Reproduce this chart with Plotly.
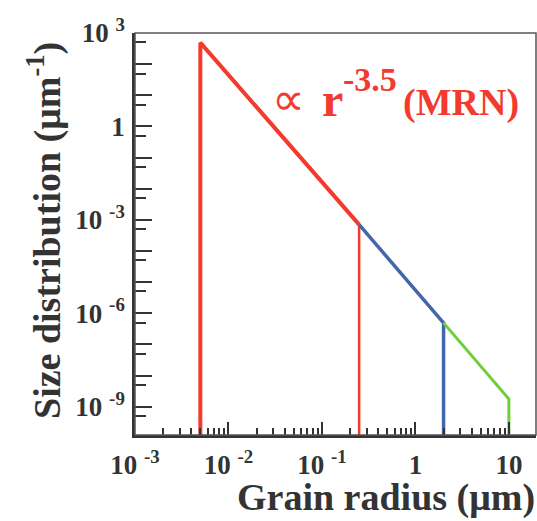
import plotly.graph_objects as go

# ---- data ----
red_x = [0.005, 0.005, 0.25]
red_y = [1e-10, 490, 7.0e-4]
red_drop_x = [0.25, 0.25]
red_drop_y = [7.0e-4, 1e-10]
blue_x = [0.25, 2.0, 2.0]
blue_y = [7.0e-4, 4.9e-7, 1e-10]
green_x = [2.0, 10.0, 10.0]
green_y = [4.9e-7, 1.75e-9, 1e-10]

x_major = [1e-3, 1e-2, 1e-1, 1, 10]
x_major_text = ["10 <sup>-3</sup>", "10 <sup>-2</sup>", "10 <sup>-1</sup>", "1", "10"]
y_major = [10.0 ** k for k in range(-9, 4)]
y_labels = {3: "10 <sup>3</sup>", 0: "1", -3: "10 <sup>-3</sup>", -6: "10 <sup>-6</sup>", -9: "10 <sup>-9</sup>"}
y_major_text = [y_labels.get(k, "") for k in range(-9, 4)]
x_minor = [m * 10.0 ** k for k in range(-3, 2) for m in range(2, 10)]
y_minor = [5 * 10.0 ** k for k in range(-10, 3)]

RED = "#f23a2e"
BLUE = "#4466aa"
GREEN = "#6fcf3a"
FONT = "Liberation Serif"
AX = "#333333"

fig = go.Figure()
fig.add_trace(go.Scatter(x=red_x, y=red_y, mode="lines", line=dict(color=RED, width=4)))
fig.add_trace(go.Scatter(x=red_drop_x, y=red_drop_y, mode="lines", line=dict(color=RED, width=2.5)))
fig.add_trace(go.Scatter(x=blue_x, y=blue_y, mode="lines", line=dict(color=BLUE, width=3.5)))
fig.add_trace(go.Scatter(x=green_x, y=green_y, mode="lines", line=dict(color=GREEN, width=3)))

L, R, T, B = 135, 1, 33, 86
W, H = 537, 521
pw, ph = W - L - R, H - T - B


def px(x):
    return (x - L) / pw


def py(y):
    return (H - B - y) / ph


fig.update_layout(
    width=W, height=H,
    margin=dict(l=L, r=R, t=T, b=B),
    plot_bgcolor="white", paper_bgcolor="white",
    showlegend=False,
    font=dict(family=FONT, color=AX),
    xaxis=dict(
        type="log", range=[-3, 1.29],
        tickmode="array", tickvals=x_major, ticktext=x_major_text,
        ticks="inside", ticklen=13, tickwidth=2, tickcolor=AX,
        tickfont=dict(family=FONT, size=27, color=AX, weight="bold"),
        showline=True, linecolor=AX, linewidth=2.5, showgrid=False, zeroline=False,
        minor=dict(tickvals=x_minor, ticks="inside", ticklen=7, tickwidth=2, tickcolor=AX, showgrid=False),
        ticklabelstandoff=4,
    ),
    yaxis=dict(
        type="log", range=[-9.91, 3.0],
        tickmode="array", tickvals=y_major, ticktext=y_major_text,
        ticks="inside", ticklen=17, tickwidth=2, tickcolor=AX,
        tickfont=dict(family=FONT, size=27, color=AX, weight="bold"),
        showline=True, linecolor=AX, linewidth=2.5, showgrid=False, zeroline=False,
        minor=dict(tickvals=y_minor, ticks="inside", ticklen=11, tickwidth=2, tickcolor=AX, showgrid=False),
        ticklabelstandoff=2,
    ),
    shapes=[dict(type="rect", xref="paper", yref="paper", x0=0, y0=0, x1=1, y1=1,
                 line=dict(color="#555555", width=1.5), layer="above")],
)

ann = [
    dict(text="Grain radius (\u03bcm)", x=1.0, y=py(520), xanchor="right", yanchor="bottom",
         borderpad=0, font=dict(size=38, color=AX, family=FONT, weight="bold")),
    dict(text="Size distribution (\u03bcm<sup>-1</sup>)", x=px(44), y=py(231), xanchor="center", yanchor="middle",
         textangle=-90, font=dict(size=38, color=AX, family=FONT, weight="bold")),
    dict(text="\u221d", x=px(288), y=py(100), xanchor="center", yanchor="middle",
         font=dict(size=46, color=RED, family=FONT)),
    dict(text="r", x=px(332), y=py(100), xanchor="center", yanchor="middle",
         font=dict(size=48, color=RED, family=FONT, weight="bold")),
    dict(text="-3.5", x=px(370), y=py(80), xanchor="center", yanchor="middle",
         font=dict(size=34, color=RED, family=FONT, weight="bold")),
    dict(text="(MRN)", x=px(461), y=py(102), xanchor="center", yanchor="middle",
         font=dict(size=38, color=RED, family=FONT, weight="bold")),
]
for a in ann:
    a.update(xref="paper", yref="paper", showarrow=False)
fig.update_layout(annotations=ann)

fig.write_html("out.html")
